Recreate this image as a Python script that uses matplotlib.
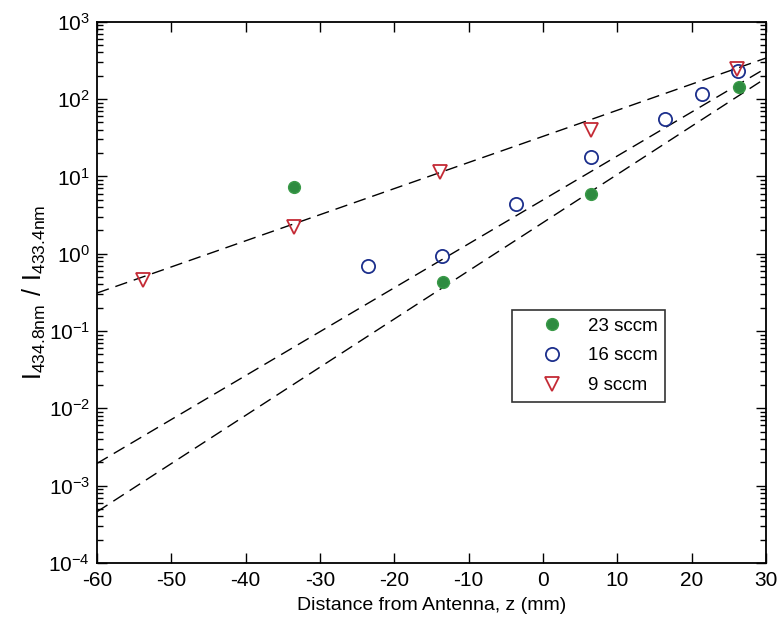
import matplotlib
matplotlib.use("Agg")
import matplotlib.pyplot as plt
from matplotlib.ticker import LogLocator, NullFormatter, FixedLocator

plt.rcParams['font.family'] = ['Liberation Sans', 'DejaVu Sans']
plt.rcParams['mathtext.fontset'] = 'custom'
plt.rcParams['mathtext.rm'] = 'Liberation Sans'
plt.rcParams['axes.unicode_minus'] = False

# Data
z_23 = [-33.5, -13.5, 6.5, 26.4]
r_23 = [7.3, 0.43, 5.9, 144]

z_16 = [-23.5, -13.6, -3.6, 6.5, 16.4, 21.4, 26.3]
r_16 = [0.69, 0.93, 4.4, 17.9, 56, 116, 230]

z_9 = [-53.8, -33.5, -13.8, 6.5, 26.1]
r_9 = [0.455, 2.2, 11.4, 39.7, 244]

# Exponential fits (end points of dashed lines)
fit_z = [-60, 30]
fit_23 = [4.6e-4, 187]
fit_16 = [1.94e-3, 251]
fit_9 = [0.31, 339]

labels = ['23 sccm', '16 sccm', '9 sccm']
xticks = [-60, -50, -40, -30, -20, -10, 0, 10, 20, 30]

fig = plt.figure(figsize=(7.77, 6.2), dpi=100)
ax = fig.add_axes([97/777, 1-563/620, 669/777, (563-21.7)/620])

dash = (0, (9, 5))
for fy in (fit_9, fit_16, fit_23):
    ax.plot(fit_z, fy, color='black', lw=1.0, linestyle=dash, zorder=2)

ax.plot(z_23, r_23, linestyle='none', marker='o', ms=8.5, mfc='#2e8b40', mec='#3a9a48',
        label=labels[0], zorder=3)
ax.plot(z_16, r_16, linestyle='none', marker='o', ms=9.5, mfc='none', mec='#1c2f8c', mew=1.3,
        label=labels[1], zorder=3)
ax.plot(z_9, r_9, linestyle='none', marker='v', ms=10, mfc='none', mec='#c42a35', mew=1.3,
        label=labels[2], zorder=3)

ax.set_yscale('log')
ax.set_xlim(-60, 30)
ax.set_ylim(1e-4, 1e3)
ax.xaxis.set_major_locator(FixedLocator(xticks))
ax.yaxis.set_major_locator(LogLocator(base=10, numticks=20))
ax.yaxis.set_minor_locator(LogLocator(base=10, subs=range(2, 10), numticks=100))
ax.yaxis.set_minor_formatter(NullFormatter())

ax.tick_params(which='both', direction='in', top=True, right=True, labelsize=15, width=1.0)
ax.tick_params(which='major', length=7)
ax.tick_params(which='minor', length=4)
ax.tick_params(axis='x', pad=6)
ax.tick_params(axis='y', pad=5)
for s in ax.spines.values():
    s.set_linewidth(1.3)

ax.set_xlabel('Distance from Antenna, z (mm)', fontsize=14, labelpad=5)
ax.set_ylabel(r'$\mathregular{I_{434.8nm}\ /\ I_{433.4nm}}$', fontsize=18, labelpad=0)

leg = ax.legend(loc='upper left', bbox_to_anchor=(0.620, 0.4674), borderaxespad=0,
                fontsize=13.5, frameon=True, fancybox=False, edgecolor='black',
                handletextpad=0.15, borderpad=0.4, labelspacing=0.68, handlelength=3.5)
leg.get_frame().set_linewidth(1.2)

fig.savefig('out.png', dpi=100, facecolor='white')
